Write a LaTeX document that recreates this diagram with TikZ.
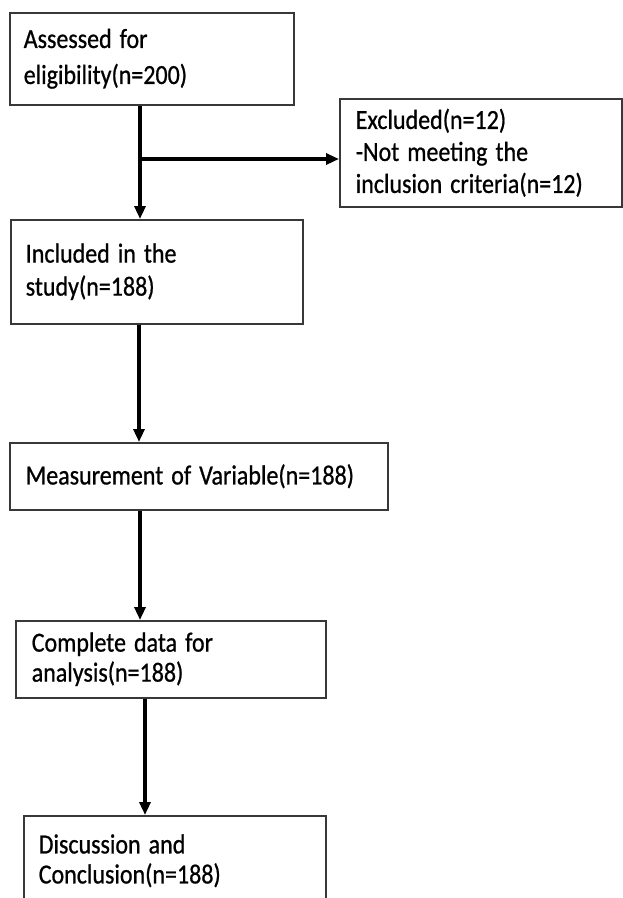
\documentclass[tikz,border=0pt]{standalone}
\usepackage{graphicx}
\usepackage{fontspec}
\setmainfont{Carlito}[UprightFeatures={FakeBold=0.8}, WordSpace=0.8]
\usetikzlibrary{arrows.meta,calc}
\newcommand{\stx}[1]{\scalebox{1}[1.15]{#1}}
\tikzset{
  box/.style={draw=black!78, line width=1.5pt, rectangle, anchor=north west, align=left, inner ysep=0pt, font=\fontsize{24}{32}\selectfont},
  arr/.style={line width=3.2pt, -{Triangle[length=13pt,width=11pt]}},
  plain/.style={line width=3.2pt}
}
\begin{document}
\begin{tikzpicture}[x=1pt,y=-1pt]
\useasboundingbox (0,0) rectangle (623,898);
\fill[white] (0,0) rectangle (623,898);
\node[box, inner xsep=14pt, text width=256pt, minimum height=92pt, font=\fontsize{24}{36}\selectfont] (b1) at (9,12) {\stx{Assessed for}\\\stx{eligibility(n=200)}};
\node[box, inner xsep=16pt, text width=250pt, minimum height=108pt] (b2) at (339,98) {\stx{Excluded(n=12)}\\\stx{-Not meeting the}\\\stx{inclusion criteria(n=12)}};
\node[box, inner xsep=15pt, text width=262pt, minimum height=104pt, font=\fontsize{24}{33}\selectfont] (b3) at (10,219) {\stx{Included in the}\\\stx{study(n=188)}};
\node[box, inner xsep=16pt, text width=346pt, minimum height=67pt] (b4) at (9,442) {\stx{Measurement of Variable(n=188)}};
\node[box, inner xsep=16pt, text width=278pt, minimum height=77pt, font=\fontsize{24}{30}\selectfont] (b5) at (15,620) {\stx{Complete data for}\\\stx{analysis(n=188)}};
\node[box, inner xsep=15pt, text width=272pt, minimum height=90pt, font=\fontsize{24}{30}\selectfont] (b6) at (23,815) {\stx{Discussion and}\\\stx{Conclusion(n=188)}};
\coordinate (a1) at (140,0);
\coordinate (a2) at (139,0);
\coordinate (a3) at (145,0);
\coordinate (j) at (140,159);
\draw[arr] (b1.south -| a1) -- (b3.north -| a1);
\draw[arr] (j) -- (b2.west |- j);
\draw[arr] (b3.south -| a2) -- (b4.north -| a2);
\draw[arr] (b4.south -| a1) -- (b5.north -| a1);
\draw[arr] (b5.south -| a3) -- (b6.north -| a3);
\end{tikzpicture}
\end{document}
